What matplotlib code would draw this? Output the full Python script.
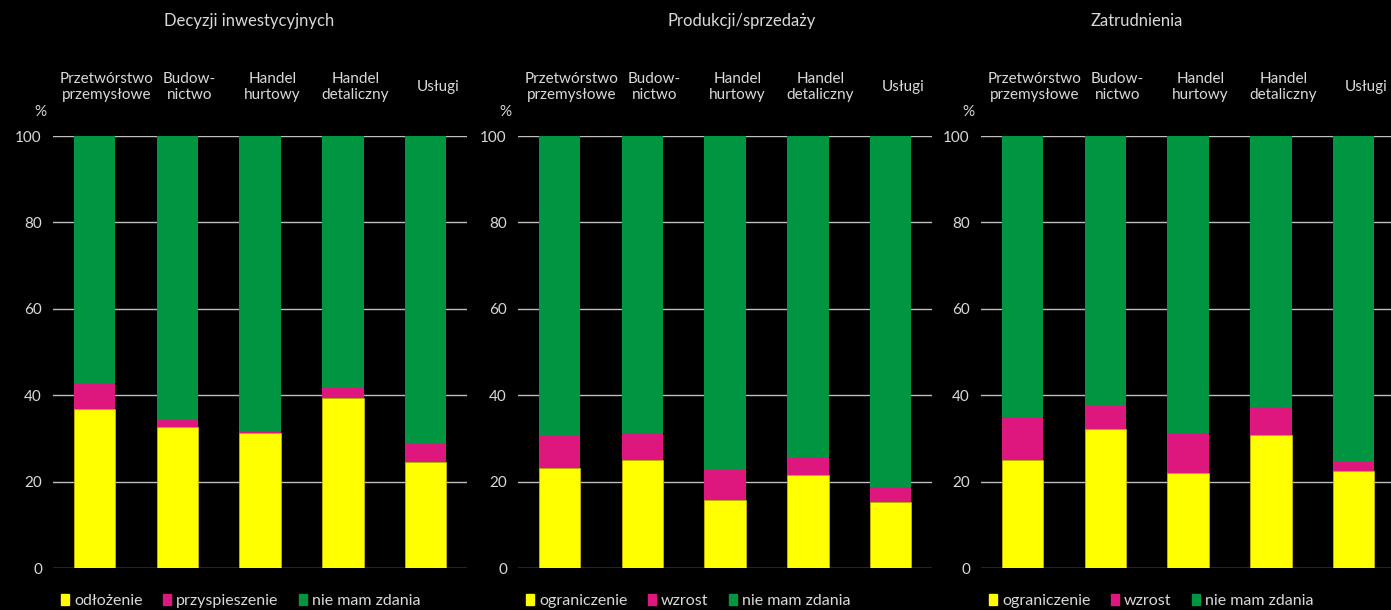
import matplotlib
matplotlib.use("Agg")
import matplotlib.pyplot as plt
from matplotlib.patches import Patch
import numpy as np

categories = ["Przetwórstwo\nprzemysłowe", "Budow-\nnictwo", "Handel\nhurtowy", "Handel\ndetaliczny", "Usługi"]
titles = ["Decyzji inwestycyjnych", "Produkcji/sprzedaży", "Zatrudnienia"]

# panel 1: Decyzji inwestycyjnych
inv_odlozenie = [36.9, 32.6, 31.2, 39.3, 24.5]
inv_przysp = [5.9, 1.7, 0.4, 2.3, 4.3]
# panel 2: Produkcji/sprzedaży
prod_ogr = [23.2, 24.9, 15.7, 21.5, 15.3]
prod_wzrost = [7.4, 6.2, 6.9, 4.0, 3.4]
# panel 3: Zatrudnienia
zatr_ogr = [25.1, 32.2, 21.9, 30.7, 22.4]
zatr_wzrost = [9.8, 5.4, 9.4, 6.6, 2.2]

legend_labels = [["odłożenie", "przyspieszenie", "nie mam zdania"],
                 ["ograniczenie", "wzrost", "nie mam zdania"],
                 ["ograniczenie", "wzrost", "nie mam zdania"]]

series = [(inv_odlozenie, inv_przysp), (prod_ogr, prod_wzrost), (zatr_ogr, zatr_wzrost)]

YELLOW = "#FFFF00"
PINK = "#DE177E"
GREEN = "#009540"
TXT = "#D9D9D9"

plt.rcParams['font.family'] = ['Lato', 'DejaVu Sans']

fig = plt.figure(figsize=(13.91, 6.10), dpi=100, facecolor="black")
lefts = [53/1391, 518/1391, 981/1391]
title_x = [0.473, 0.541, 0.376]
w = 414/1391
bottom = (610-568)/610
height = (568-136)/610

x = np.arange(len(categories))
for i, (a, b) in enumerate(series):
    ax = fig.add_axes([lefts[i], bottom, w, height])
    ax.set_facecolor("black")
    a = np.array(a); b = np.array(b)
    c = 100 - a - b
    ax.bar(x, a, width=0.5, color=YELLOW, edgecolor="#C8B400", linewidth=0.6, zorder=3)
    ax.bar(x, b, bottom=a, width=0.5, color=PINK, linewidth=0, zorder=3)
    ax.bar(x, c, bottom=a+b, width=0.5, color=GREEN, linewidth=0, zorder=3)
    ax.set_xlim(-0.5, 4.5)
    ax.set_ylim(0, 100)
    ax.set_yticks([0, 20, 40, 60, 80, 100])
    ax.yaxis.grid(True, color="#BFBFBF", linewidth=1.0, zorder=0)
    ax.set_axisbelow(True)
    for s in ax.spines.values():
        s.set_visible(False)
    ax.tick_params(axis='y', colors=TXT, labelsize=11, length=0, pad=8)
    ax.tick_params(axis='x', length=0, labelbottom=False)
    for j, cat in enumerate(categories):
        ax.text(j + 0.15, (568-87)/432, cat, transform=ax.get_xaxis_transform(), ha='center', va='center',
                color=TXT, fontsize=11, linespacing=1.25)
    ax.text(-0.031, (568-112)/432, "%", transform=ax.transAxes, ha='center', va='center', color=TXT, fontsize=11)
    ax.text(title_x[i], (568-21)/432, titles[i], transform=ax.transAxes, ha='center', va='center',
            color=TXT, fontsize=12)
    handles = [Patch(color=YELLOW), Patch(color=PINK), Patch(color=GREEN)]
    leg = ax.legend(handles, legend_labels[i], ncol=3, loc='upper left', bbox_to_anchor=(0.02, -0.06),
                    frameon=False, fontsize=11.5, handlelength=0.5, handleheight=0.7,
                    handletextpad=0.3, columnspacing=1.3, borderaxespad=0, borderpad=0)
    for t in leg.get_texts():
        t.set_color(TXT)

fig.savefig("out.png", dpi=100, facecolor="black")
